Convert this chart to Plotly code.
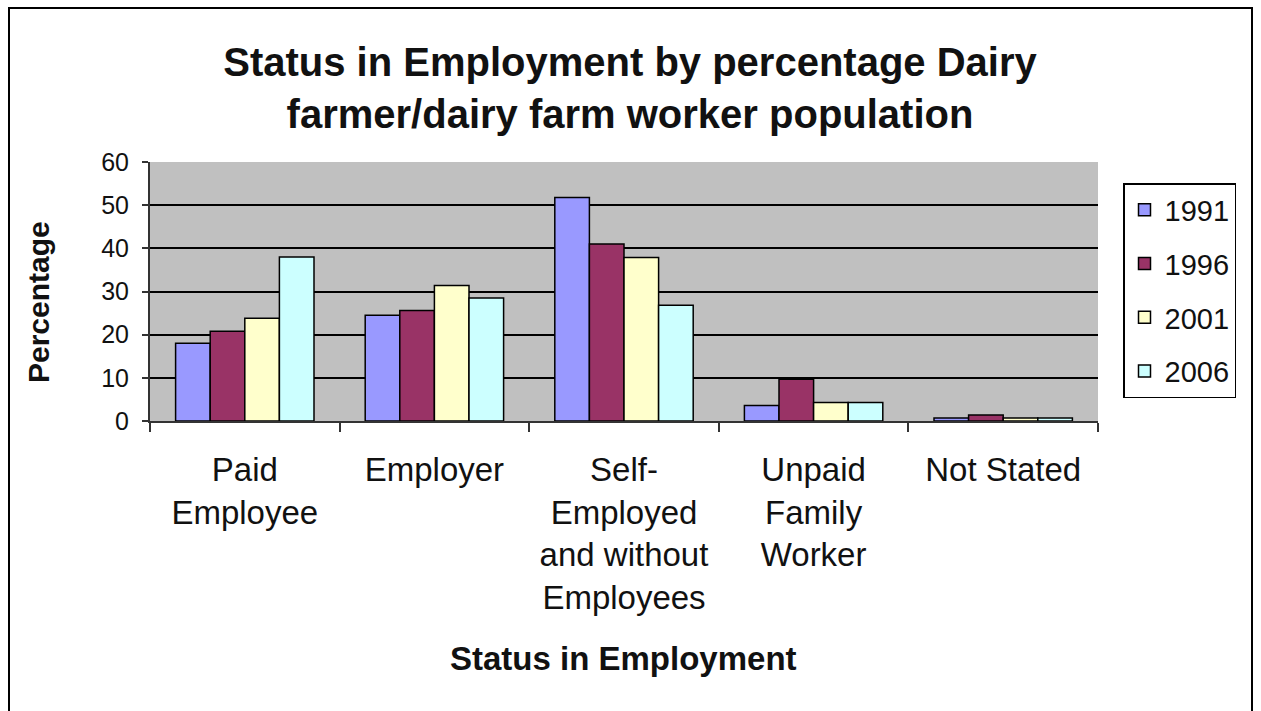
import plotly.graph_objects as go

categories = ["Paid<br>Employee", "Employer", "Self-<br>Employed<br>and without<br>Employees",
              "Unpaid<br>Family<br>Worker", "Not Stated"]
years = ["1991", "1996", "2001", "2006"]
v1991 = [18.0, 24.5, 51.8, 3.6, 0.7]
v1996 = [20.8, 25.6, 41.0, 9.7, 1.4]
v2001 = [23.8, 31.4, 37.9, 4.3, 0.7]
v2006 = [38.0, 28.5, 26.8, 4.3, 0.7]
series = [v1991, v1996, v2001, v2006]
colors = ["#9999FF", "#993366", "#FFFFCC", "#CCFFFF"]

W, H = 1261, 711
L, R, T, B = 150, 1098, 162, 421  # plot area in pixels
pw, ph = R - L, B - T

def px_x(x):
    return (x - L) / pw

def px_y(y):
    return (B - y) / ph

FONT = "Liberation Sans, Arial, sans-serif"
TXT = "#111111"

fig = go.Figure()
for name, vals, col in zip(years, series, colors):
    fig.add_trace(go.Bar(
        x=categories, y=vals, name=name, legendgroup=name,
        marker=dict(color=col, line=dict(color="black", width=1.5)),
    ))

fig.update_layout(
    width=W, height=H,
    margin=dict(l=L, r=W - R, t=T, b=H - B, pad=0),
    paper_bgcolor="white",
    plot_bgcolor="#C0C0C0",
    barmode="group",
    bargap=0.27,
    bargroupgap=0.0,
    font=dict(family=FONT, color=TXT),
    title=dict(
        text="<b>Status in Employment by percentage Dairy<br>farmer/dairy farm worker population</b>",
        x=630 / W, xanchor="center",
        y=1 - 76 / H, yanchor="middle",
        font=dict(size=40, family=FONT, color=TXT),
    ),
    legend=dict(
        x=px_x(1123), xanchor="left",
        y=px_y(183), yanchor="top",
        bgcolor="white",
        bordercolor="black", borderwidth=1.5,
        font=dict(size=29, family=FONT, color=TXT),
        itemwidth=30,
        traceorder="grouped",
        tracegroupgap=13,
    ),
    showlegend=True,
)

fig.update_xaxes(
    type="category",
    showline=True, linecolor="#333333", linewidth=2,
    ticks="outside", tickson="boundaries", ticklen=9, tickcolor="#333333", tickwidth=1.5,
    tickfont=dict(size=33, family=FONT, color=TXT),
    ticklabelstandoff=18,
    showgrid=False,
    mirror=False,
)
fig.update_yaxes(
    range=[0, 60], dtick=10, tick0=0,
    showline=True, linecolor="#333333", linewidth=2,
    ticks="outside", ticklen=6, tickcolor="#333333", tickwidth=1.5,
    tickfont=dict(size=25, family=FONT, color=TXT),
    ticklabelstandoff=8,
    showgrid=True, gridcolor="black", gridwidth=1.5,
    zeroline=False,
)

# axis titles placed as annotations
fig.add_annotation(text="<b>Percentage</b>", textangle=-90,
                   xref="paper", yref="paper", x=px_x(38), y=px_y(302),
                   xanchor="center", yanchor="middle", showarrow=False,
                   font=dict(size=30, family=FONT, color=TXT))
fig.add_annotation(text="<b>Status in Employment</b>",
                   xref="paper", yref="paper", x=px_x(623), y=px_y(658),
                   xanchor="center", yanchor="middle", showarrow=False,
                   font=dict(size=33, family=FONT, color=TXT))

# outer chart border
fig.add_shape(type="rect", xref="paper", yref="paper",
              x0=px_x(9), x1=px_x(1252), y0=px_y(720), y1=px_y(8),
              line=dict(color="black", width=2), fillcolor="rgba(0,0,0,0)", layer="below")

fig.write_html("out.html")
